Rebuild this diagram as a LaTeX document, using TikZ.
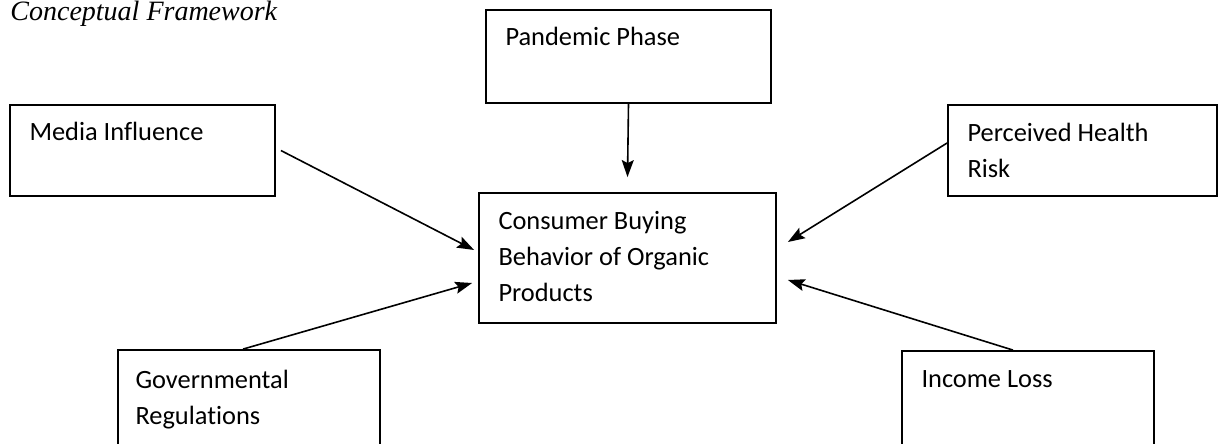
\documentclass[tikz,border=0pt]{standalone}
\usepackage{fontspec}
\setmainfont{Carlito}[Ligatures=NoCommon]
\newfontfamily\titlefont{Liberation Serif}
\usetikzlibrary{arrows.meta,positioning}

\begin{document}
\begin{tikzpicture}
  [x=0.5pt,y=-0.5pt,
  box/.style={rectangle,draw=black,line width=0.9pt,inner sep=0pt},
  boxtext/.style={anchor=north west,inner sep=0pt,align=left,font=\fontsize{13.2}{18}\selectfont,execute at begin node=\strut},
  arr/.style={-{Stealth[length=8.5pt,width=6pt,inset=1.5pt]},line width=0.8pt}]
  \useasboundingbox (0,0) rectangle (1220,444);

  \node[anchor=base west,inner sep=0pt,font=\titlefont\itshape\fontsize{14}{16}\selectfont] (title) at (10,21) {Conceptual Framework};

  % the boxes
  \node[box,minimum width=142.5pt,minimum height=46.5pt] (phase) at (628.5,56.5) {};
  \node[box,minimum width=132.5pt,minimum height=45.5pt] (media) at (142.5,150.5) {};
  \node[box,minimum width=134.5pt,minimum height=45.5pt] (risk) at (1082.5,150.5) {};
  \node[box,minimum width=148.5pt,minimum height=65pt] (consumer) at (627.5,258) {};
  \node[box,minimum width=131pt,minimum height=47.5pt] (govern) at (249,397.5) {};
  \node[box,minimum width=126pt,minimum height=47pt] (income) at (1028,398) {};

  % texts in the boxes
  \node[boxtext] (phasetxt) at ([shift={(10pt,-5.4pt)}]phase.north west) {Pandemic Phase};
  \node[boxtext] (mediatxt) at ([shift={(10pt,-5.4pt)}]media.north west) {Media Influence};
  \node[boxtext] (risktxt) at ([shift={(10pt,-9.4pt)}]risk.north west) {Perceived Health\\Risk};
  \node[boxtext] (consumertxt) at ([shift={(10pt,-9.4pt)}]consumer.north west) {Consumer Buying\\Behavior of Organic\\Products};
  \node[boxtext] (governtxt) at ([shift={(9pt,-10.4pt)}]govern.north west) {Governmental\\Regulations};
  \node[boxtext] (incometxt) at ([shift={(10pt,-5.9pt)}]income.north west) {Income Loss};

  % arrows
  \draw[arr] (phase.south) -- ([yshift=7.5pt]consumer.north);
  \draw[arr] ([xshift=2.5pt]media.east) -- ([shift={(-2pt,4pt)}]consumer.west);
  \draw[arr] ([yshift=3.75pt]risk.west) -- ([shift={(5.5pt,8pt)}]consumer.east);
  \draw[arr] ([xshift=-3pt]govern.north) -- ([shift={(-3pt,-12.5pt)}]consumer.west);
  \draw[arr] ([xshift=-7.5pt]income.north) -- ([shift={(5.5pt,-11pt)}]consumer.east);
\end{tikzpicture}
\end{document}
